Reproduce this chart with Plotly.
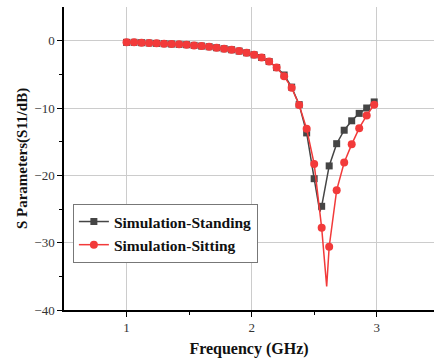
import plotly.graph_objects as go

# Marker frequencies (GHz)
freq = [1.00, 1.06, 1.12, 1.18, 1.24, 1.30, 1.36, 1.42, 1.48, 1.54, 1.60, 1.66,
        1.72, 1.78, 1.84, 1.90, 1.96, 2.02, 2.08, 2.14, 2.20, 2.26, 2.32, 2.38,
        2.44, 2.50, 2.56, 2.62, 2.68, 2.74, 2.80, 2.86, 2.92, 2.98]

standing = [-0.25, -0.25, -0.3, -0.35, -0.4, -0.45, -0.5, -0.55, -0.6, -0.7, -0.8, -0.9,
            -1.05, -1.2, -1.35, -1.55, -1.8, -2.1, -2.5, -3.1, -4.0, -5.1, -6.9, -9.5,
            -13.7, -20.5, -24.6, -18.6, -15.3, -13.3, -11.9, -10.8, -10.0, -9.1]

sitting = [-0.25, -0.25, -0.3, -0.35, -0.4, -0.45, -0.5, -0.55, -0.6, -0.7, -0.8, -0.9,
           -1.05, -1.2, -1.35, -1.55, -1.8, -2.1, -2.5, -3.1, -4.0, -5.3, -7.0, -9.55,
           -13.1, -18.3, -27.8, -30.6, -22.2, -18.1, -15.4, -13.0, -11.1, -9.5]

# Resonance minima of the simulated curves (line only, no marker)
standing_min_f, standing_min_v = 2.545, -25.4
sitting_min_f, sitting_min_v = 2.60, -36.5

names = ["Simulation-Standing", "Simulation-Sitting"]
colors = ["#454545", "#f23a3a"]


def with_min(xs, ys, fx, fv):
    pts = sorted(list(zip(xs, ys)) + [(fx, fv)])
    return [p[0] for p in pts], [p[1] for p in pts]


fig = go.Figure()

series = [
    (standing, standing_min_f, standing_min_v, "square", 7),
    (sitting, sitting_min_f, sitting_min_v, "circle", 8),
]

for (vals, mf, mv, sym, ms), name, col in zip(series, names, colors):
    lx, ly = with_min(freq, vals, mf, mv)
    fig.add_trace(go.Scatter(x=lx, y=ly, mode="lines", line=dict(color=col, width=1.5),
                             showlegend=False, hoverinfo="skip"))
    fig.add_trace(go.Scatter(x=freq, y=vals, mode="markers",
                             marker=dict(symbol=sym, size=ms, color=col),
                             showlegend=False))
    fig.add_trace(go.Scatter(x=[None], y=[None], mode="lines+markers", name=name,
                             line=dict(color=col, width=1.5),
                             marker=dict(symbol=sym, size=ms, color=col)))

serif = "Liberation Serif, Times New Roman, serif"

fig.update_layout(
    width=434, height=361,
    margin=dict(l=64, r=0, t=7, b=51),
    plot_bgcolor="white", paper_bgcolor="white",
    font=dict(family=serif, size=13, color="#222"),
    legend=dict(x=0.024, y=0.35, xanchor="left", yanchor="top",
                bgcolor="white", bordercolor="#777", borderwidth=1,
                font=dict(family=serif, size=15.5, color="#111", weight="bold"),
                tracegroupgap=0, itemwidth=30),
)

fig.update_xaxes(
    range=[0.5, 3.458], tickvals=[1, 2, 3], ticks="outside", ticklen=5,
    tickcolor="black", showline=True, linecolor="black", linewidth=1.5,
    showgrid=True, gridcolor="#cccccc", gridwidth=1, zeroline=False,
    minor=dict(tickvals=[1.5, 2.5], ticks="outside", ticklen=3, tickcolor="black", showgrid=False),
    title=dict(text="Frequency (GHz)", font=dict(family=serif, size=16, color="#111", weight="bold"),
               standoff=8),
    tickfont=dict(size=13, color="#333"),
)
fig.update_yaxes(
    range=[-40, 5], tickvals=[0, -10, -20, -30, -40], ticks="outside", ticklen=5,
    tickcolor="black", showline=True, linecolor="black", linewidth=1.5,
    showgrid=True, gridcolor="#cccccc", gridwidth=1, zeroline=False,
    minor=dict(tickvals=[-5, -15, -25, -35], ticks="outside", ticklen=3, tickcolor="black", showgrid=False),
    title=dict(text="S Parameters(S11/dB)", font=dict(family=serif, size=15, color="#111", weight="bold"),
               standoff=3),
    tickfont=dict(size=13, color="#333"),
)

fig.write_html("out.html")
